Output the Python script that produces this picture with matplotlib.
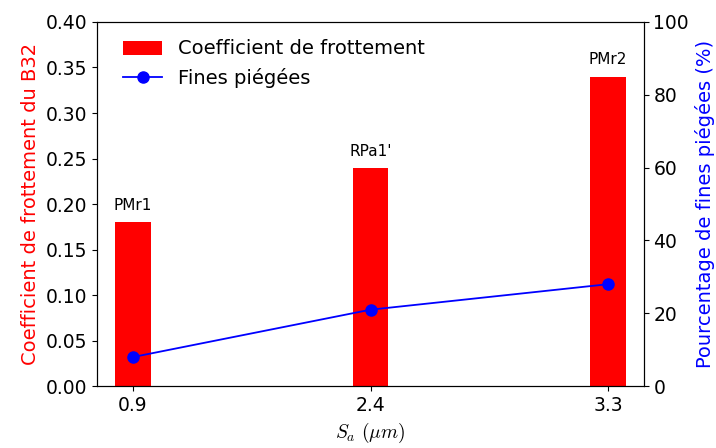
import matplotlib
matplotlib.use("Agg")
import matplotlib.pyplot as plt
import numpy as np

plt.rcParams['mathtext.fontset'] = 'cm'

# Surface roughness categories and measurements
roughness_labels = ['0.9', '2.4', '3.3']
sample_names = ['PMr1', "RPa1'", 'PMr2']
friction_coef = [0.18, 0.24, 0.34]
trapped_fines_pct = [8, 21, 28]

x = np.arange(len(roughness_labels))

fig = plt.figure(figsize=(7.16, 4.48), dpi=100)
ax1 = fig.add_axes([0.136, 0.138, 0.763, 0.813])
ax2 = ax1.twinx()

bars = ax1.bar(x, friction_coef, width=0.15, color='red', label='Coefficient de frottement')
for xi, h, name in zip(x, friction_coef, sample_names):
    ax1.text(xi, h + 0.01, name, ha='center', va='bottom', fontsize=11)

line, = ax2.plot(x, trapped_fines_pct, color='blue', marker='o', markersize=8,
                 linewidth=1.3, label='Fines piégées')

ax1.set_xlim(-0.15, 2.15)
ax1.set_ylim(0, 0.40)
ax1.set_yticks(np.arange(0, 0.401, 0.05))
ax2.set_ylim(0, 100)
ax1.set_xticks(x)
ax1.set_xticklabels(roughness_labels)

ax1.tick_params(labelsize=13.5)
ax2.tick_params(labelsize=13.5)

ax1.set_xlabel(r'$S_a\ (\mu m)$', fontsize=14)
ax1.set_ylabel('Coefficient de frottement du B32', color='red', fontsize=14)
ax2.set_ylabel('Pourcentage de fines piégées (%)', color='blue', fontsize=14)

ax1.legend([bars, line], ['Coefficient de frottement', 'Fines piégées'],
           loc='upper left', bbox_to_anchor=(0.015, 1.0), frameon=False,
           fontsize=14, handleheight=0.75)

fig.savefig('out.png', dpi=100)
